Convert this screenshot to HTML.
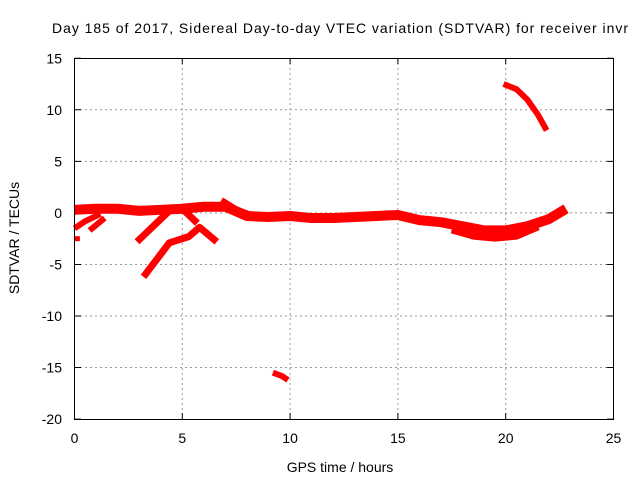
<!DOCTYPE html>
<html><head><meta charset="utf-8"><style>body{margin:0;background:#fff}svg{display:block;font-family:"Liberation Sans",sans-serif}</style></head>
<body>
<svg id="c" width="640" height="480">
<text x="52" y="33" font-size="14" textLength="576">Day 185 of 2017, Sidereal Day-to-day VTEC variation (SDTVAR) for receiver invr</text>
<text x="340" y="472" font-size="14" text-anchor="middle">GPS time / hours</text>
<text transform="translate(19,238) rotate(-90)" font-size="14" text-anchor="middle">SDTVAR / TECUs</text>
<g id="grid"></g><g id="marks"></g>
<rect x="74.5" y="58.5" width="539" height="361" fill="none" stroke="#000"/>
</svg>
<script>
const xTicks=[0,5,10,15,20,25];
const yTicks=[-20,-15,-10,-5,0,5,10,15];
const mainH=[0,1,2,3,4,5,6,7,8,9,10,11,12,13,14,15,16,17,18,19,20,21,22,22.8];
const mainV=[0.3,0.4,0.4,0.2,0.3,0.4,0.6,0.6,-0.3,-0.4,-0.3,-0.5,-0.5,-0.4,-0.3,-0.2,-0.7,-0.9,-1.3,-1.7,-1.7,-1.3,-0.6,0.4];
const t2H=[0,0.5,1.2];const t2V=[-1.5,-0.8,-0.1];
const t3H=[0.7,1.4];const t3V=[-1.7,-0.5];
const t4H=[2.9,4.4,5.0,5.7];const t4V=[-2.8,0.2,0.4,-1.0];
const t5H=[3.2,4.4,5.3,5.8,6.6];const t5V=[-6.2,-2.9,-2.3,-1.4,-2.8];
const t6H=[6.8,7.5,8.5];const t6V=[1.2,0.3,-0.5];
const t7H=[19.9,20.5,21,21.5,21.9];const t7V=[12.5,12,11,9.5,8];
const t8H=[9.2,9.6,9.9];const t8V=[-15.5,-15.8,-16.2];
const t9H=[0,0.25];const t9V=[-2.5,-2.5];
const t10H=[17.5,18.5,19.5,20.5,21.5];const t10V=[-1.6,-2.2,-2.4,-2.2,-1.3];
const X=h=>74.5+h*21.56, Y=v=>212.9-v*10.31;
const NS='http://www.w3.org/2000/svg';
const g=document.getElementById('grid'),m=document.getElementById('marks'),svg=document.getElementById('c');
xTicks.forEach(t=>{
 const l=document.createElementNS(NS,'line');
 
 
 l.setAttribute('x1',X(t));l.setAttribute('x2',X(t));l.setAttribute('y1',58);l.setAttribute('y2',419);
 l.setAttribute('stroke',(t==0||t==25)?'none':'#999');l.setAttribute('stroke-dasharray','2,3');g.appendChild(l);
 const k=document.createElementNS(NS,'path');
 
 
 k.setAttribute('d',`M${X(t)} 419v-6M${X(t)} 58v6`);k.setAttribute('stroke','#000');g.appendChild(k);
 const s=document.createElementNS(NS,'text');
 
 
 s.setAttribute('x',X(t));s.setAttribute('y',443);s.setAttribute('font-size','14');s.setAttribute('text-anchor','middle');s.textContent=t;svg.appendChild(s);
});
yTicks.forEach(t=>{
 const l=document.createElementNS(NS,'line');
 
 
 l.setAttribute('x1',75);l.setAttribute('x2',613);l.setAttribute('y1',Y(t));l.setAttribute('y2',Y(t));
 l.setAttribute('stroke',(t==15||t==-20)?'none':'#999');l.setAttribute('stroke-dasharray','2,3');g.appendChild(l);
 const k=document.createElementNS(NS,'path');
 
 
 k.setAttribute('d',`M75 ${Y(t)}h6M613 ${Y(t)}h-6`);k.setAttribute('stroke','#000');g.appendChild(k);
 const s=document.createElementNS(NS,'text');
 
 
 s.setAttribute('x',62);s.setAttribute('y',Y(t)+5);s.setAttribute('font-size','14');s.setAttribute('text-anchor','end');s.textContent=t;svg.appendChild(s);
});
function track(H,V,w,name){
 const p=document.createElementNS(NS,'polyline');
 
 
 p.setAttribute('points',H.map((h,i)=>X(h)+','+Y(V[i])).join(' '));
 p.setAttribute('fill','none');p.setAttribute('stroke','#f00');p.setAttribute('stroke-width',w);p.setAttribute('stroke-linejoin','round');
 m.appendChild(p);
}
track(mainH,mainV,10,'main-track');
track(t2H,t2V,6,'track-2');track(t3H,t3V,6,'track-3');track(t4H,t4V,7,'track-4');
track(t5H,t5V,7,'track-5');track(t6H,t6V,7,'track-6');track(t7H,t7V,6,'track-7');
track(t8H,t8V,6,'track-8');track(t9H,t9V,5,'track-9');track(t10H,t10V,8,'track-10');
</script>
</body></html>
